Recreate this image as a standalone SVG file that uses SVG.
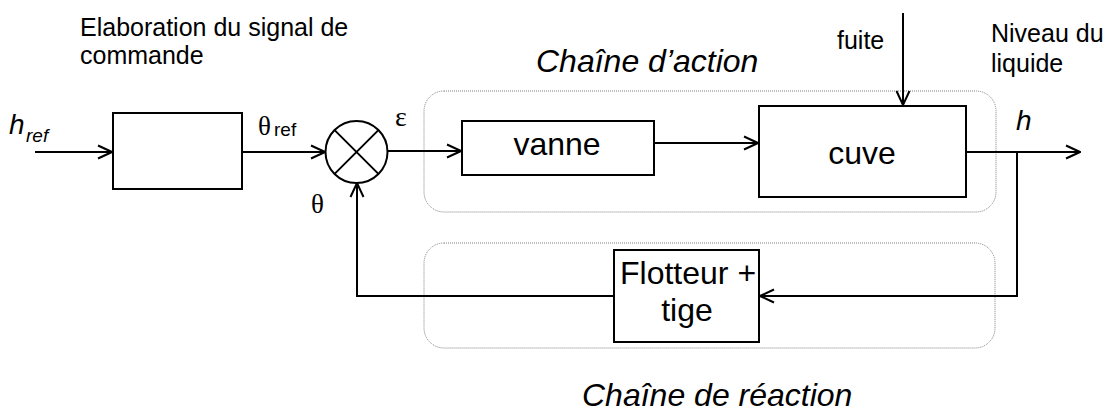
<svg xmlns="http://www.w3.org/2000/svg" width="1114" height="414" viewBox="0 0 1114 414">
  <style>
    .blk { fill: #fff; stroke: #000; stroke-width: 2; }
    .wire { fill: none; stroke: #000; stroke-width: 2; }
    .zone { fill: none; stroke: #808080; stroke-width: 1; stroke-dasharray: 1 1; }
    .sans { font-family: "Liberation Sans", Arial, sans-serif; fill: #000; }
    .serif { font-family: "Liberation Serif", "Times New Roman", serif; fill: #000; }
    .it { font-style: italic; }
    .big { font-size: 32px; }
    .note { font-size: 25px; }
  </style>
  <defs>
    <marker id="arr" viewBox="0 0 16 16" refX="15" refY="8" markerWidth="16" markerHeight="16" markerUnits="userSpaceOnUse" orient="auto">
      <path d="M1,1.5 L15,8 L1,14.5" fill="none" stroke="#000" stroke-width="2"/>
    </marker>
  </defs>

  <!-- dotted zones -->
  <g id="zones">
    <rect class="zone" x="424" y="91" width="572" height="121" rx="20"/>
    <rect class="zone" x="424" y="243" width="571" height="105" rx="20"/>
  </g>

  <!-- free labels -->
  <g id="labels">
    <text class="sans note" x="80" y="36">Elaboration du signal de</text>
    <text class="sans note" x="80" y="64">commande</text>
    <text class="sans it big" x="536" y="72">Chaîne d’action</text>
    <text class="sans it big" x="582" y="406">Chaîne de réaction</text>
    <text class="sans note" x="837" y="49">fuite</text>
    <text class="sans note" x="991" y="42">Niveau du</text>
    <text class="sans note" x="991" y="72">liquide</text>
    <text class="sans it" x="1016" y="130" font-size="28">h</text>
    <text class="sans it" x="9" y="134" font-size="28">h</text>
    <text class="sans it" x="26" y="142" font-size="19">ref</text>
    <text class="serif" x="258" y="135" font-size="27">θ</text>
    <text class="sans" x="274" y="136" font-size="19">ref</text>
    <text class="serif" x="395" y="126" font-size="28">ε</text>
    <text class="serif" x="311" y="213" font-size="27">θ</text>
  </g>

  <!-- connectors -->
  <g id="connectors">
    <line class="wire" x1="35" y1="152" x2="112" y2="152" marker-end="url(#arr)"/>
    <line class="wire" x1="242" y1="152" x2="325" y2="152" marker-end="url(#arr)"/>
    <line class="wire" x1="388" y1="151" x2="461" y2="151" marker-end="url(#arr)"/>
    <line class="wire" x1="654" y1="143" x2="758" y2="143" marker-end="url(#arr)"/>
    <line class="wire" x1="903" y1="13" x2="903" y2="105" marker-end="url(#arr)"/>
    <line class="wire" x1="966" y1="152" x2="1080" y2="152" marker-end="url(#arr)"/>
    <polyline class="wire" points="1017,152 1017,296 760,296" marker-end="url(#arr)"/>
    <polyline class="wire" points="614,296 357,296 357,183" marker-end="url(#arr)"/>
  </g>

  <!-- blocks -->
  <g id="elaboration">
    <rect class="blk" x="113" y="113" width="129" height="76"/>
  </g>
  <g id="comparateur">
    <circle class="blk" cx="356.5" cy="152" r="31"/>
    <path class="wire" d="M334.6,130.1 L378.4,173.9 M378.4,130.1 L334.6,173.9"/>
  </g>
  <g id="vanne">
    <rect class="blk" x="462" y="121" width="192" height="54"/>
    <text class="sans big" x="557" y="155" text-anchor="middle">vanne</text>
  </g>
  <g id="cuve">
    <rect class="blk" x="759" y="106" width="207" height="91"/>
    <text class="sans big" x="862" y="164" text-anchor="middle">cuve</text>
  </g>
  <g id="flotteur">
    <rect class="blk" x="614" y="250" width="145" height="92"/>
    <text class="sans big" x="620" y="284">Flotteur +</text>
    <text class="sans big" x="687" y="321" text-anchor="middle">tige</text>
  </g>
</svg>
